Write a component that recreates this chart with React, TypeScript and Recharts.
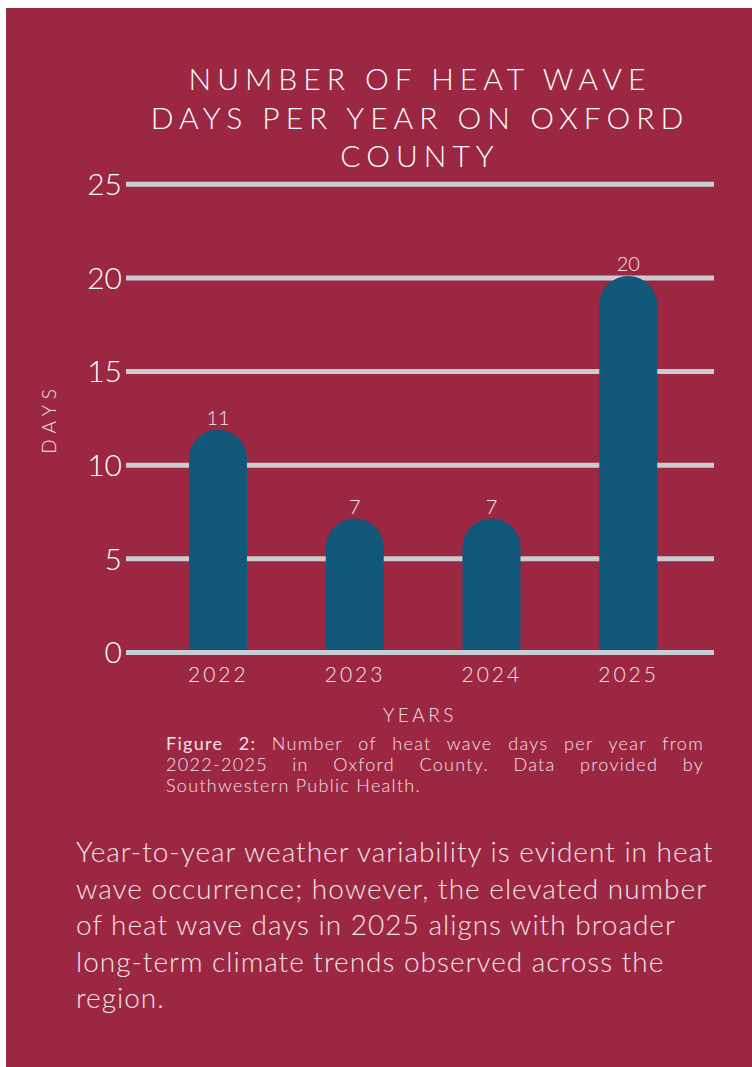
import React from 'react';
import { BarChart, Bar, XAxis, YAxis, CartesianGrid, LabelList } from 'recharts';

const years = ['2022', '2023', '2024', '2025'];
// numbers printed above the bars
const dayLabels = [11, 7, 7, 20];
// bar tops as they are drawn in the figure (2022 is drawn a little taller than its label)
const barHeights = [11.9, 7.15, 7.15, 20.1];
const yTicks = [0, 5, 10, 15, 20, 25];

const titleLines = ['NUMBER OF HEAT WAVE', 'DAYS PER YEAR ON OXFORD', 'COUNTY'];
const captionLead = 'Figure 2:';
const captionLines = [
  'Number of heat wave days per year from',
  '2022-2025 in Oxford County. Data provided by',
  'Southwestern Public Health.',
];
const bodyLines = [
  'Year-to-year weather variability is evident in heat',
  'wave occurrence; however, the elevated number',
  'of heat wave days in 2025 aligns with broader',
  'long-term climate trends observed across the',
  'region.',
];

const BG = '#9c2742';
const BAR = '#10577a';
const GRID = '#c9cdd1';
const SOFT = '#f3e3e8';
const FONT = 'Lato, "Open Sans", sans-serif';

const data = years.map((year, i) => ({ year, height: barHeights[i], label: dayLabels[i] }));

const DaysLabel = (props: any) => {
  const { viewBox } = props;
  const cx = viewBox.x + 48.5;
  const cy = viewBox.y + viewBox.height / 2;
  return (
    <text
      x={cx}
      y={cy}
      transform={`rotate(-90, ${cx}, ${cy})`}
      textAnchor="middle"
      dominantBaseline="central"
      fill={SOFT}
      fontFamily={FONT}
      fontWeight={300}
      fontSize={19}
      style={{ letterSpacing: 6 }}
    >
      DAYS
    </text>
  );
};

export default function App() {
  return (
    <div style={{ position: 'absolute', left: 0, top: 0, width: 752, height: 1067, fontFamily: FONT }}>
      <div style={{ position: 'absolute', left: 6, top: 8, width: 746, height: 1059, background: BG }} />

      {/* title */}
      <div
        style={{
          position: 'absolute',
          left: 100,
          top: 59,
          width: 640,
          textAlign: 'center',
          color: '#ffffff',
          fontSize: 30,
          fontWeight: 300,
          lineHeight: '38.5px',
          letterSpacing: 6,
        }}
      >
        {titleLines.map((l) => (
          <div key={l}>{l}</div>
        ))}
      </div>

      <div style={{ position: 'absolute', left: 0, top: 0 }}>
        <BarChart
          width={752}
          height={740}
          data={data}
          margin={{ top: 184.3, right: 38, bottom: 57.5, left: 0 }}
        >
          <CartesianGrid horizontal vertical={false} stroke={GRID} strokeWidth={5} />
          <YAxis
            type="number"
            domain={[0, 25]}
            ticks={yTicks}
            width={126}
            axisLine={false}
            tickLine={false}
            tickSize={0}
            tickMargin={4}
            tick={{ fill: '#ffffff', fontSize: 30, fontFamily: FONT, fontWeight: 300 }}
            label={<DaysLabel />}
          />
          <Bar dataKey="height" fill={BAR} barSize={58} radius={[29, 29, 0, 0]} isAnimationActive={false}>
            <LabelList
              dataKey="label"
              position="top"
              offset={5}
              fill={SOFT}
              fontSize={20}
              fontFamily={FONT}
              fontWeight={300}
            />
          </Bar>
          <XAxis
            dataKey="year"
            height={30}
            padding={{ left: 24, right: 17 }}
            axisLine={{ stroke: GRID, strokeWidth: 5 }}
            tickLine={false}
            tickSize={0}
            tickMargin={15}
            tick={{ fill: SOFT, fontSize: 21, fontFamily: FONT, fontWeight: 300, style: { letterSpacing: 3 } }}
            label={{
              value: 'YEARS',
              position: 'bottom',
              offset: 26,
              fill: SOFT,
              fontSize: 19,
              fontFamily: FONT,
              fontWeight: 300,
              style: { letterSpacing: 3.5 },
            }}
          />
        </BarChart>
      </div>

      {/* caption */}
      <div
        style={{
          position: 'absolute',
          left: 166,
          top: 733,
          width: 538,
          color: SOFT,
          fontSize: 18,
          fontWeight: 300,
          lineHeight: '21px',
          letterSpacing: 1.3,
        }}
      >
        {captionLines.map((l, i) => (
          <div
            key={l}
            style={{ textAlign: 'justify', textAlignLast: i < captionLines.length - 1 ? 'justify' : 'left' }}
          >
            {i === 0 ? <span style={{ fontWeight: 400 }}>{captionLead} </span> : null}
            {l}
          </div>
        ))}
      </div>

      {/* body text */}
      <div
        style={{
          position: 'absolute',
          left: 76,
          top: 833,
          color: SOFT,
          fontSize: 28,
          fontWeight: 300,
          lineHeight: '36.5px',
          letterSpacing: 1,
          whiteSpace: 'nowrap',
        }}
      >
        {bodyLines.map((l) => (
          <div key={l}>{l}</div>
        ))}
      </div>
    </div>
  );
}
